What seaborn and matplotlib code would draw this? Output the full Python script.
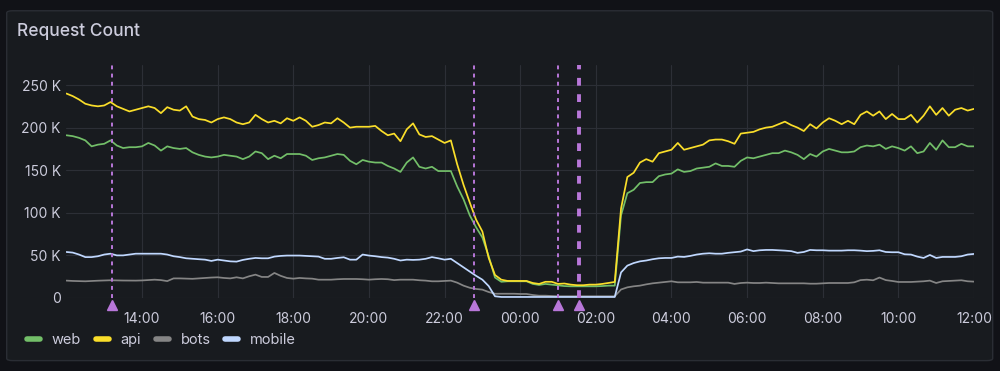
import matplotlib
matplotlib.use("Agg")
import matplotlib.pyplot as plt
import matplotlib.dates as mdates
import matplotlib.transforms as mtransforms
from matplotlib.lines import Line2D
from matplotlib.patches import FancyBboxPatch
import pandas as pd
import seaborn as sns

# 10-minute samples, 12:00 -> 12:00 next day (values in thousands)
START = "2024-01-01 12:00"
N_POINTS = 145

web = [191, 190, 188, 185, 178, 180, 181, 185, 179, 176,
       177, 177, 178, 182, 179, 173, 178, 176, 175, 176,
       171, 168, 166, 165, 166, 168, 167, 166, 163, 166,
       172, 170, 163, 167, 164, 169, 169, 169, 167, 162,
       164, 165, 167, 169, 168, 161, 157, 162, 160, 159,
       159, 155, 152, 148, 159, 165, 154, 152, 154, 149,
       149, 149, 131, 116, 97, 83, 71, 49, 24, 19,
       19.6, 19.6, 19.6, 19.6, 16.5, 15.3, 16.5, 15.7, 15, 14,
       13.7, 13.7, 13.7, 13.7, 13.7, 14, 14.5, 14.5, 97, 123,
       127, 135, 136, 136, 143, 145, 146, 151, 148, 149,
       152, 153, 154, 158, 155, 155, 154, 161, 165, 164,
       166, 168, 170, 170, 173, 171, 168, 163, 169,
       166, 172, 175, 173, 171, 171, 172, 177, 179, 178,
       180, 175, 178, 176, 173, 178, 170, 172, 182, 174,
       185, 177, 177, 181, 178, 178]

api = [240, 237, 233, 228, 226, 225, 226, 230, 225, 222,
       219, 221, 223, 225, 223, 217, 224, 221, 220, 225,
       213, 210, 209, 206, 210, 212, 210, 206, 204, 206,
       215, 210, 206, 208, 205, 211, 208, 212, 208, 201,
       203, 206, 205, 211, 206, 200, 201, 201, 201, 202,
       196, 191, 193, 184, 198, 205, 192, 189, 190, 186,
       182, 185, 157, 133, 112, 92, 78, 47, 27, 21.5,
       20, 20, 20, 20, 17.6, 16.5, 19, 19, 16.5, 17,
       15.7, 15, 15, 15.7, 15.7, 16.5, 17.6, 18.8, 105, 142,
       147, 159, 163, 160, 170, 172, 174, 182, 174, 176,
       178, 180, 185, 186, 186, 184, 181, 193, 194, 195,
       198, 200, 201, 204, 207, 203, 200, 196, 204,
       199, 206, 211, 208, 204, 208, 204, 215, 219, 214,
       219, 210, 216, 210, 210, 215, 206, 214, 225, 215,
       223, 214, 221, 223, 220, 222]

bots = [20.4, 20, 19.8, 19.6, 20, 20.3, 20.6, 20.8, 20.6, 20.5,
        20.4, 20.4, 20.6, 21, 21.5, 21, 19.8, 23, 23, 22.7,
        22.5, 23, 23.5, 24, 24.3, 23.5, 23, 24.3, 23, 25.5,
        27.4, 24.7, 24.7, 29.4, 26, 23.5, 22.7, 23.5, 23, 22.7,
        21.5, 21.5, 21.5, 22, 22.3, 22.3, 22.3, 22, 21.5, 22,
        22.3, 22, 21, 21.5, 21.5, 21.5, 20.8, 20.4, 19.6, 19.6,
        20, 20.4, 18, 14.5, 12, 10.6, 9.8, 7, 5, 5,
        5, 5, 4.7, 4.7, 3.5, 2.7, 2.7, 2.3, 2, 2,
        2, 2, 2, 2, 2, 2, 2, 2, 10, 12.5,
        13.7, 14.5, 16, 17.2, 18, 18.8, 19.6, 18.4, 18.4, 18.4,
        18.8, 18, 18, 18, 18, 18, 16.5, 17.6, 18, 17.6,
        17.6, 18, 17.6, 17.2, 17.2, 17.2, 17.2, 17.2, 16.8,
        16.8, 17.2, 17.6, 17.6, 17.6, 17.6, 18.4, 21, 21.5, 20.8,
        24, 21, 20, 18.8, 18.8, 18.8, 19.2, 19.6, 20.4, 17.6,
        19.6, 20, 20.4, 20.8, 19.6, 19.2]

mobile = [54, 53.3, 51, 48, 48, 49, 51, 52, 50, 50,
          51, 52, 52, 52, 52, 52, 51, 49, 48, 46.6,
          46, 45.5, 45, 43.5, 45, 44, 43, 42.7, 44.7, 46,
          47, 46.6, 46.6, 48.6, 49.4, 49.8, 49.8, 49.8, 49.4, 49,
          48.6, 46, 46, 47, 47.8, 45, 45, 51, 49.8, 49,
          48, 47.4, 46, 44, 45, 44.7, 45, 46, 48, 46.6,
          45, 46, 41, 36, 31, 26, 21.5, 14, 2, 1.2,
          1.2, 1.2, 1.2, 1.2, 1.2, 1.2, 1.2, 1.2, 1.2, 1.2,
          1.2, 1.2, 1.2, 1.2, 1.2, 1.2, 1.2, 1.2, 30, 38,
          41, 43, 44, 45.5, 46.6, 47, 47, 48.6, 48.2, 49.4,
          51, 52, 52.5, 52, 52, 53, 53.7, 54.5, 57, 55,
          56, 56.4, 56.4, 56, 55.6, 55, 53, 54, 56.4,
          56, 56, 55.6, 55.6, 55.6, 56, 56, 55.6, 55, 55.3,
          56, 54, 53.7, 53.7, 51.3, 51, 48.6, 47, 50.5, 47,
          48.2, 48.2, 48.2, 49, 51, 51.7]

series_names = ["web", "api", "bots", "mobile"]
series_colors = ["#73bf69", "#fade2a", "#858585", "#c0d8ff"]

annotation_times = ["2024-01-01 13:12", "2024-01-01 22:46", "2024-01-02 01:00", "2024-01-02 01:34"]
annotation_widths = [1.4, 1.4, 1.4, 2.8]

y_ticks = [0, 50, 100, 150, 200, 250]
x_ticks = pd.date_range("2024-01-01 14:00", "2024-01-02 12:00", freq="2h")

BG = "#111217"
PANEL = "#181b1f"
TEXT = "#ccccdc"
GRID = "#2c2f36"
ANNO = "#b877d9"

times = pd.date_range(START, periods=N_POINTS, freq="10min")
df = pd.DataFrame({"time": times, "web": web, "api": api, "bots": bots, "mobile": mobile})
long_df = df.melt(id_vars="time", var_name="series", value_name="value")

sns.set_theme(style="dark")
plt.rcParams["font.family"] = ["Inter", "DejaVu Sans"]

fig = plt.figure(figsize=(10, 3.71), dpi=100, facecolor=BG)
fig.patches.append(FancyBboxPatch((0.0067, 0.028), 0.986, 0.943,
                                  boxstyle="round,pad=0,rounding_size=0.006",
                                  transform=fig.transFigure, facecolor=PANEL,
                                  edgecolor="#2a2d34", linewidth=1, zorder=-5))

ax = fig.add_axes([0.0664, 0.1968, 0.9076, 0.628])
ax.set_facecolor(PANEL)
ax.set_zorder(2)

sns.lineplot(data=long_df, x="time", y="value", hue="series",
             hue_order=series_names, palette=dict(zip(series_names, series_colors)),
             linewidth=1.25, legend=False, ax=ax, zorder=3)

# annotations
marker_tr = mtransforms.blended_transform_factory(ax.transData, ax.transAxes)
for t, lw in zip(annotation_times, annotation_widths):
    ts = pd.Timestamp(t)
    ax.axvline(ts, color=ANNO, linewidth=lw, linestyle=(0, (2, 2.2)), zorder=4)
    ax.plot([ts], [-0.028], marker="^", markersize=7, color=ANNO,
            transform=marker_tr, clip_on=False, zorder=5)

ax.set_xlim(times[0], times[-1])
ax.set_ylim(0, 273.5)
ax.set_yticks(y_ticks)
ax.set_yticklabels(["0" if v == 0 else f"{v} K" for v in y_ticks])
ax.set_xticks(x_ticks)
ax.xaxis.set_major_formatter(mdates.DateFormatter("%H:%M"))
ax.set_xlabel("")
ax.set_ylabel("")

ax.grid(True, color=GRID, linewidth=0.8)
ax.set_axisbelow(True)
for s in ax.spines.values():
    s.set_visible(False)
ax.tick_params(axis="both", length=0, colors=TEXT, labelsize=10)
ax.tick_params(axis="x", pad=10)
ax.tick_params(axis="y", pad=4)

fig.text(0.017, 0.915, "Request Count", color=TEXT, fontsize=12.5,
         fontweight="medium", va="center", ha="left")

handles = [Line2D([0], [0], color=c, linewidth=4, solid_capstyle="round")
           for c in series_colors]
leg = fig.legend(handles, series_names, loc="center left", bbox_to_anchor=(0.014, 0.084),
                 ncol=4, frameon=False, fontsize=10.5, handlelength=0.9,
                 handletextpad=0.8, columnspacing=1.0, labelcolor=TEXT)

fig.savefig("out.png", dpi=100, facecolor=BG)
